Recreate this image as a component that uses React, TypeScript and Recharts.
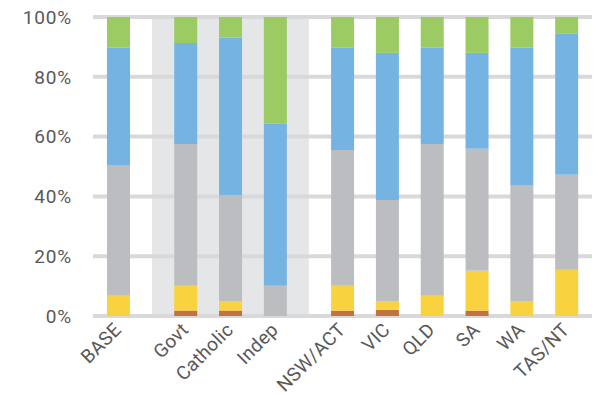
import {
  BarChart,
  Bar,
  XAxis,
  YAxis,
  CartesianGrid,
  ReferenceArea,
} from "recharts";

// category groups; a half-slot gap separates groups
const groups = [
  ["BASE"],
  ["Govt", "Catholic", "Indep"],
  ["NSW/ACT", "VIC", "QLD", "SA", "WA", "TAS/NT"],
];

// share of respondents (%) per segment, bottom to top
const brown = [0, 1.8, 1.8, 0, 1.8, 2.1, 0, 1.8, 0, 0];
const yellow = [6.8, 8.3, 3.2, 0, 8.3, 2.9, 6.8, 13.3, 5.0, 15.5];
const gray = [43.7, 47.4, 35.5, 10.1, 45.4, 33.8, 50.7, 40.8, 38.8, 31.7];
const blue = [39.2, 33.8, 52.6, 54.2, 34.2, 49.2, 32.2, 32.1, 45.9, 47.4];
const green = [10.3, 8.7, 6.9, 35.7, 10.3, 12.0, 10.3, 12.0, 10.3, 5.4];

const yTicks = [0, 20, 40, 60, 80, 100];

// slot positions on a numeric x axis
const slots: { name: string; pos: number }[] = [];
let cursor = 0;
groups.forEach((g, gi) => {
  if (gi > 0) cursor += 0.5;
  g.forEach((name) => {
    slots.push({ name, pos: cursor });
    cursor += 1;
  });
});
const lastPos = slots[slots.length - 1].pos;
const xDomain = [-0.567, lastPos + 0.567];
const mid = groups[1];
const bandFrom = slots.find((s) => s.name === mid[0])!.pos - 0.75;
const bandTo = slots.find((s) => s.name === mid[mid.length - 1])!.pos + 0.75;

const data = slots.map((s, i) => ({
  name: s.name,
  pos: s.pos,
  brown: brown[i],
  yellow: yellow[i],
  gray: gray[i],
  blue: blue[i],
  green: green[i],
}));

const labelColor = "#595959";
const gridColor = "#d9d9d9";
const font = "Roboto, 'Noto Sans', sans-serif";

const XTick = (props: any) => {
  const { x, y, payload } = props;
  const s = slots.find((t) => t.pos === payload.value);
  return (
    <text
      x={x + 4}
      y={y + 13}
      textAnchor="end"
      transform={`rotate(-45, ${x + 4}, ${y + 13})`}
      fill={labelColor}
      fontSize={19}
      fontFamily={font}
      letterSpacing={0.3}
    >
      {s ? s.name : ""}
    </text>
  );
};

// grey band behind the school-type group, with the gridlines redrawn on top
const Band = (props: any) => {
  const { x, y, width, height } = props;
  return (
    <g>
      <rect x={x} y={y} width={width} height={height} fill="#e5e6e8" />
      {yTicks.map((t) => {
        const ly = y + height * (1 - t / 100);
        return (
          <line
            key={t}
            x1={x}
            x2={x + width}
            y1={ly}
            y2={ly}
            stroke={gridColor}
            strokeWidth={4}
          />
        );
      })}
    </g>
  );
};

const series = [
  { key: "brown", color: "#c0723f" },
  { key: "yellow", color: "#f8d33f" },
  { key: "gray", color: "#bcbdc0" },
  { key: "blue", color: "#75b4e2" },
  { key: "green", color: "#9bcb62" },
];

export default function App() {
  return (
    <div style={{ position: "absolute", left: 0, top: 0 }}>
      <BarChart
        width={600}
        height={395}
        data={data}
        margin={{ top: 17, right: 8, left: 0, bottom: 0 }}
      >
        <CartesianGrid vertical={false} stroke={gridColor} strokeWidth={4} />
        <ReferenceArea
          x1={bandFrom}
          x2={bandTo}
          y1={0}
          y2={100}
          shape={<Band />}
        />
        <XAxis
          dataKey="pos"
          type="number"
          domain={xDomain}
          ticks={slots.map((s) => s.pos)}
          interval={0}
          axisLine={false}
          tickLine={false}
          tickSize={0}
          height={79}
          tick={<XTick />}
          allowDataOverflow
        />
        <YAxis
          domain={[0, 100]}
          ticks={yTicks}
          tickFormatter={(v) => `${v}%`}
          axisLine={false}
          tickLine={false}
          tickSize={0}
          tickMargin={21}
          width={93}
          tick={{ fontSize: 19, fill: labelColor, fontFamily: font, letterSpacing: 0.8 }}
        />
        {series.map((s) => (
          <Bar
            key={s.key}
            dataKey={s.key}
            stackId="a"
            fill={s.color}
            barSize={23}
            isAnimationActive={false}
          />
        ))}
      </BarChart>
    </div>
  );
}
